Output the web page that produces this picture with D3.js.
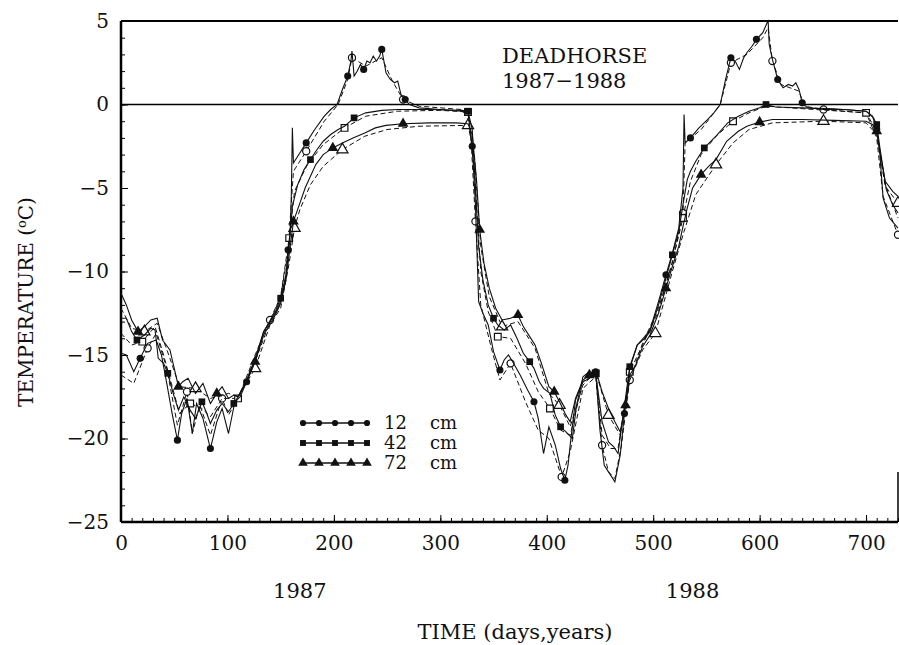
<!DOCTYPE html>
<html>
<head>
<meta charset="utf-8">
<script src="https://cdn.jsdelivr.net/npm/d3@7"></script>
<style>
body { margin: 0; background: #fff; }
text { font-family: "DejaVu Serif", serif; fill: #111; }
</style>
</head>
<body>
<div id="chart"></div>
<script>
// measured soil temperature (day, degC)
const depth12 = [[0,-14.9],[5,-15.0],[12,-16.0],[18,-15.2],[25,-14.3],[33,-14.1],[38,-15.0],[43,-16.7],[48,-18.5],[53,-20.1],[57,-18.5],[62,-17.6],[67,-19.7],[71,-17.9],[77,-18.8],[84,-20.6],[90,-19.0],[95,-18.2],[101,-19.7],[107,-17.8],[112,-17.5],[118,-16.6],[126,-15.4],[134,-13.6],[145,-12.5],[150,-11.8],[155,-10.3],[157,-8.7],[159,-7.6],[160,-5.5],[161,-1.4],[162,-3.5],[168,-2.9],[174,-2.3],[182,-1.5],[191,-0.7],[197,-0.3],[203,0],[208,0.9],[213,1.7],[216,2.6],[217,3.2],[219,1.7],[222,2.0],[225,2.4],[228,2.1],[231,2.6],[234,2.5],[237,2.9],[240,2.6],[243,2.9],[245,3.3],[249,1.9],[253,1.5],[257,1.3],[260,1.4],[263,0.6],[267,0.3],[271,0],[280,-0.2],[300,-0.3],[320,-0.4],[326,-0.5],[330,-2.5],[333,-6],[336,-11.8],[340,-12.5],[345,-13.2],[350,-14.8],[356,-15.9],[360,-15.3],[364,-15],[368,-15.4],[375,-16.2],[382,-17.1],[388,-17.8],[392,-18.8],[397,-20.9],[402,-19.3],[408,-20.4],[413,-21.8],[417,-22.5],[420,-21.6],[422,-20.4],[427,-17.7],[434,-16.6],[440,-16.4],[446,-16.0],[450,-19.5],[454,-21.6],[458,-22.0],[464,-22.6],[469,-21.0],[473,-18.5],[478,-15.8],[485,-14.4],[492,-13.9],[497,-13.5],[505,-11.8],[512,-10.2],[518,-8.9],[524,-7.4],[528,-5.0],[529,-0.6],[530,-2.3],[535,-2.0],[543,-1.4],[551,-0.9],[557,-0.5],[563,0],[568,1.5],[573,2.8],[577,2.6],[581,2.1],[585,2.8],[588,3.1],[593,3.5],[597,3.9],[603,4.3],[607,4.9],[608,5.0],[609,3.6],[612,2.7],[617,1.5],[622,1.0],[627,1.2],[631,1.1],[634,1.3],[637,0.9],[640,0.1],[645,-0.2],[660,-0.3],[680,-0.3],[700,-0.4],[706,-0.7],[710,-1.5],[713,-3.0],[716,-5.6],[722,-6.8],[730,-7.4]];

const depth42 = [[0,-12.8],[5,-12.8],[10,-13.6],[15,-14.1],[22,-13.8],[28,-13.4],[32,-13.5],[35,-15.2],[40,-15.5],[44,-16.1],[49,-17.3],[54,-18.3],[59,-17.5],[65,-18.3],[70,-18.8],[76,-17.8],[80,-18.4],[84,-19.1],[90,-18.3],[95,-17.9],[101,-18.4],[106,-17.9],[110,-17.5],[118,-16.5],[126,-15.2],[134,-13.6],[145,-12.4],[150,-11.6],[155,-10.2],[158,-8.5],[161,-6.1],[166,-4.8],[172,-3.9],[178,-3.3],[183,-2.8],[190,-2.2],[197,-1.8],[204,-1.5],[210,-1.3],[219,-0.8],[230,-0.5],[245,-0.35],[260,-0.3],[290,-0.3],[320,-0.35],[326,-0.4],[330,-1.5],[333,-5],[336,-8.5],[340,-10.5],[345,-12],[350,-12.8],[354,-13.2],[360,-13.5],[366,-13.2],[372,-14.0],[378,-14.9],[384,-15.4],[388,-15.8],[393,-16.6],[397,-17.0],[403,-17.3],[408,-18.6],[413,-19.3],[418,-19.6],[424,-20.0],[428,-18.0],[434,-16.3],[440,-16.0],[446,-16.1],[452,-19.0],[458,-20.2],[463,-20.5],[467,-20.9],[472,-18.5],[478,-15.7],[485,-14.4],[492,-14.0],[497,-13.6],[505,-12.0],[512,-10.4],[518,-9.0],[524,-7.6],[528,-6.0],[532,-4.5],[535,-4.0],[540,-3.4],[548,-2.6],[559,-1.9],[570,-1.1],[580,-0.7],[590,-0.4],[600,-0.2],[606,0],[615,-0.15],[640,-0.2],[670,-0.25],[700,-0.4],[707,-0.8],[710,-1.2],[713,-2.6],[719,-5.1],[725,-6.0],[730,-6.5]];

const depth72 = [[0,-11.3],[5,-12.0],[10,-12.9],[16,-13.6],[22,-13.3],[28,-12.9],[34,-12.8],[39,-14.1],[46,-14.7],[54,-16.9],[58,-16.6],[63,-16.4],[70,-17.3],[77,-16.7],[84,-17.9],[90,-17.3],[95,-16.9],[101,-17.6],[106,-17.4],[110,-17.5],[118,-16.6],[126,-15.4],[134,-13.8],[145,-12.6],[150,-11.9],[155,-10.5],[158,-9.0],[162,-7.0],[167,-6.1],[173,-5.0],[178,-4.3],[183,-3.6],[190,-3.0],[199,-2.6],[208,-2.3],[218,-2.0],[229,-1.7],[239,-1.4],[249,-1.25],[265,-1.15],[290,-1.1],[315,-1.1],[326,-1.15],[330,-1.8],[334,-4.5],[337,-7.5],[341,-9.5],[346,-11],[352,-12.2],[358,-12.9],[366,-12.8],[373,-12.6],[378,-13.3],[384,-13.9],[389,-14.4],[395,-15.5],[402,-16.9],[407,-17.2],[412,-17.8],[418,-18.6],[422,-19.0],[427,-17.6],[434,-16.5],[440,-16.2],[446,-15.9],[452,-17.2],[458,-18.2],[464,-19.0],[469,-19.6],[474,-18.0],[478,-16.2],[483,-15.7],[490,-14.5],[497,-13.8],[505,-12.5],[512,-11.0],[518,-9.7],[524,-8.5],[528,-7.3],[532,-6.2],[537,-5.0],[545,-4.2],[552,-3.7],[559,-3.3],[569,-2.2],[580,-1.6],[588,-1.3],[600,-1.05],[612,-0.9],[640,-0.9],[670,-0.95],[700,-1.0],[706,-1.2],[710,-1.6],[713,-2.8],[718,-4.6],[725,-5.2],[730,-5.5]];

// computed curves (dashed, open symbols)
const model12 = [[0,-16.2],[12,-16.7],[25,-14.6],[33,-13.7],[43,-15.8],[53,-19.2],[62,-17.2],[67,-19.7],[74,-18.0],[84,-19.8],[95,-17.6],[101,-18.6],[110,-17.6],[126,-15.0],[140,-12.9],[150,-11.5],[157,-8.8],[162,-4.0],[174,-2.8],[191,-1.0],[204,0.0],[213,1.5],[217,2.8],[230,2.3],[245,2.8],[255,1.4],[265,0.3],[280,-0.1],[320,-0.3],[328,-1.0],[333,-7],[338,-12.0],[348,-14.6],[356,-16.5],[366,-15.5],[380,-17.8],[392,-19.5],[402,-20.0],[414,-22.3],[422,-20.8],[434,-17.0],[446,-16.3],[452,-20.4],[458,-22.0],[464,-22.4],[470,-20.5],[478,-16.5],[490,-14.3],[505,-12.2],[518,-9.5],[528,-6.5],[530,-2.3],[545,-1.5],[563,0.0],[573,2.5],[588,3.0],[603,4.0],[608,4.6],[612,2.6],[620,1.2],[637,0.8],[642,-0.1],[660,-0.3],[700,-0.5],[710,-2.0],[716,-5.5],[730,-7.8]];

const model42 = [[0,-13.7],[10,-14.4],[20,-14.2],[32,-13.3],[40,-15.0],[55,-18.5],[65,-17.9],[76,-18.2],[84,-18.7],[95,-17.6],[110,-17.6],[126,-15.4],[140,-13.0],[150,-11.5],[158,-8.0],[163,-5.2],[175,-3.6],[190,-2.4],[210,-1.4],[230,-0.7],[260,-0.4],[300,-0.35],[326,-0.45],[332,-4],[338,-10],[345,-12.4],[354,-13.9],[366,-14.0],[380,-15.5],[392,-17.2],[403,-18.2],[413,-19.5],[422,-19.8],[434,-16.6],[446,-16.1],[452,-19.8],[460,-20.6],[467,-20.6],[478,-16.0],[490,-14.4],[505,-12.4],[518,-9.4],[528,-6.8],[535,-4.6],[545,-3.0],[559,-1.9],[575,-1.0],[590,-0.5],[606,-0.1],[640,-0.25],[700,-0.5],[710,-1.6],[718,-4.8],[730,-6.8]];

const model72 = [[0,-12.2],[10,-13.4],[22,-13.6],[34,-13.1],[46,-15.2],[55,-16.9],[70,-17.0],[84,-17.6],[101,-17.3],[110,-17.5],[126,-15.8],[140,-13.2],[150,-12.2],[158,-9.5],[163,-7.4],[168,-6.3],[178,-4.8],[190,-3.7],[208,-2.7],[229,-1.9],[250,-1.5],[280,-1.3],[326,-1.25],[332,-3],[338,-8.5],[346,-11.5],[358,-13.3],[373,-13.0],[389,-14.6],[402,-17.3],[412,-18.0],[422,-19.3],[434,-16.8],[446,-16.0],[458,-18.6],[469,-19.8],[478,-16.5],[490,-14.7],[502,-13.7],[518,-10.0],[528,-7.8],[540,-5.4],[559,-3.6],[575,-2.3],[590,-1.5],[612,-1.1],[660,-1.0],[700,-1.1],[710,-1.8],[718,-4.9],[730,-5.9]];

const legendLabels = ["12", "42", "72"];
const xTicks = [0, 100, 200, 300, 400, 500, 600, 700];
const yTicks = [5, 0, -5, -10, -15, -20, -25];
const yearLabels = [[168, "1987"], [537, "1988"]];

const svg = d3.select("#chart")
    .append("svg")
        .attr("width", 899)
        .attr("height", 645)

const x = d3.scaleLinear().domain([0, 730]).range([121, 898])
const y = d3.scaleLinear().domain([-25, 5]).range([522, 21])

// minor ticks
svg.append("g")
    .attr("transform", `translate(${x(0)},0)`)
    .call(d3.axisLeft(y).tickValues(d3.range(-25, 6)).tickSize(-4).tickFormat(""))
    .call(g => g.select(".domain").remove())
svg.append("g")
    .attr("transform", `translate(0,${y(-25)})`)
    .call(d3.axisBottom(x).tickValues(d3.range(0, 731, 10)).tickSize(-4).tickFormat(""))
    .call(g => g.select(".domain").remove())

// major ticks + labels
const yAxis = svg.append("g")
    .attr("transform", `translate(${x(0)},0)`)
    .call(d3.axisLeft(y).tickValues(yTicks).tickSize(-7).tickPadding(12))
yAxis.select(".domain").remove()
yAxis.selectAll("text").style("font-size", "20px").style("font-family", "DejaVu Serif")

const xAxis = svg.append("g")
    .attr("transform", `translate(0,${y(-25)})`)
    .call(d3.axisBottom(x).tickValues(xTicks).tickSize(-7).tickPadding(14))
xAxis.select(".domain").remove()
xAxis.selectAll("text").style("font-size", "20px").style("font-family", "DejaVu Serif")

// frame
svg.append("line")
    .attr("x1", x(0)).attr("x2", x(0))
    .attr("y1", y(5)).attr("y2", y(-25))
    .style("stroke", "black").style("stroke-width", 2.5)
svg.append("line")
    .attr("x1", x(0)).attr("x2", x(730))
    .attr("y1", y(-25)).attr("y2", y(-25))
    .style("stroke", "black").style("stroke-width", 2.5)
svg.append("line")
    .attr("x1", x(0)).attr("x2", x(730))
    .attr("y1", y(5)).attr("y2", y(5))
    .style("stroke", "black").style("stroke-width", 2)
svg.append("line")
    .attr("x1", x(730)).attr("x2", x(730))
    .attr("y1", y(-22)).attr("y2", y(-25))
    .style("stroke", "black").style("stroke-width", 1.5)
svg.append("line")
    .attr("x1", x(0)).attr("x2", x(730))
    .attr("y1", y(0)).attr("y2", y(0))
    .style("stroke", "black").style("stroke-width", 1.5)

// curves
const line = d3.line().x(d => x(d[0])).y(d => y(d[1]))

const measured = [
    {data: depth12, sym: d3.symbolCircle, size: 40},
    {data: depth42, sym: d3.symbolSquare, size: 45},
    {data: depth72, sym: d3.symbolTriangle, size: 50}
]
const computed = [
    {data: model12, sym: d3.symbolCircle, size: 40},
    {data: model42, sym: d3.symbolSquare, size: 45},
    {data: model72, sym: d3.symbolTriangle, size: 55}
]

const plot = svg.append("g")

computed.forEach(s => {
    plot.append("path")
        .datum(s.data)
        .attr("d", line)
        .style("fill", "none")
        .style("stroke", "#111")
        .style("stroke-width", 1)
        .style("stroke-dasharray", "5,3")
    plot.selectAll(null)
        .data(s.data.filter((d, i) => i % 4 == 2))
        .join("path")
            .attr("transform", d => `translate(${x(d[0])},${y(d[1])})`)
            .attr("d", d3.symbol().type(s.sym).size(s.size))
            .style("fill", "white")
            .style("stroke", "#111")
            .style("stroke-width", 1.2)
})

measured.forEach(s => {
    plot.append("path")
        .datum(s.data)
        .attr("d", line)
        .style("fill", "none")
        .style("stroke", "#111")
        .style("stroke-width", 1.1)
    plot.selectAll(null)
        .data(s.data.filter((d, i) => i % 6 == 3))
        .join("path")
            .attr("transform", d => `translate(${x(d[0])},${y(d[1])})`)
            .attr("d", d3.symbol().type(s.sym).size(s.size))
            .style("fill", "#111")
})

// legend
const legend = svg.append("g")
measured.forEach((s, i) => {
    const ly = 423 + i * 20
    legend.append("line")
        .attr("x1", 303).attr("x2", 367)
        .attr("y1", ly).attr("y2", ly)
        .style("stroke", "#111").style("stroke-width", 1.5)
    legend.selectAll(null)
        .data(d3.range(5))
        .join("path")
            .attr("transform", k => `translate(${303 + k * 16},${ly})`)
            .attr("d", d3.symbol().type(s.sym).size(s.size - 10))
            .style("fill", "#111")
    legend.append("text")
        .attr("x", 384).attr("y", ly + 6)
        .style("font-size", "18px")
        .text(legendLabels[i])
    legend.append("text")
        .attr("x", 430).attr("y", ly + 6)
        .style("font-size", "18px")
        .text("cm")
})

// titles
svg.append("text")
    .attr("x", 502).attr("y", 63)
    .style("font-size", "21px")
    .text("DEADHORSE")
svg.append("text")
    .attr("x", 502).attr("y", 88)
    .style("font-size", "21px")
    .text("1987\u22121988")

yearLabels.forEach(d => {
    svg.append("text")
        .attr("x", x(d[0])).attr("y", 598)
        .attr("text-anchor", "middle")
        .style("font-size", "21px")
        .text(d[1])
})

svg.append("text")
    .attr("x", 515).attr("y", 639)
    .attr("text-anchor", "middle")
    .style("font-size", "21px")
    .text("TIME (days,years)")

const yLab = svg.append("text")
    .attr("transform", "translate(33,302) rotate(-90)")
    .attr("text-anchor", "middle")
    .style("font-size", "20px")
yLab.append("tspan").text("TEMPERATURE (")
yLab.append("tspan").attr("dy", -7).style("font-size", "13px").text("o")
yLab.append("tspan").attr("dy", 7).text("C)")
</script>
</body>
</html>
